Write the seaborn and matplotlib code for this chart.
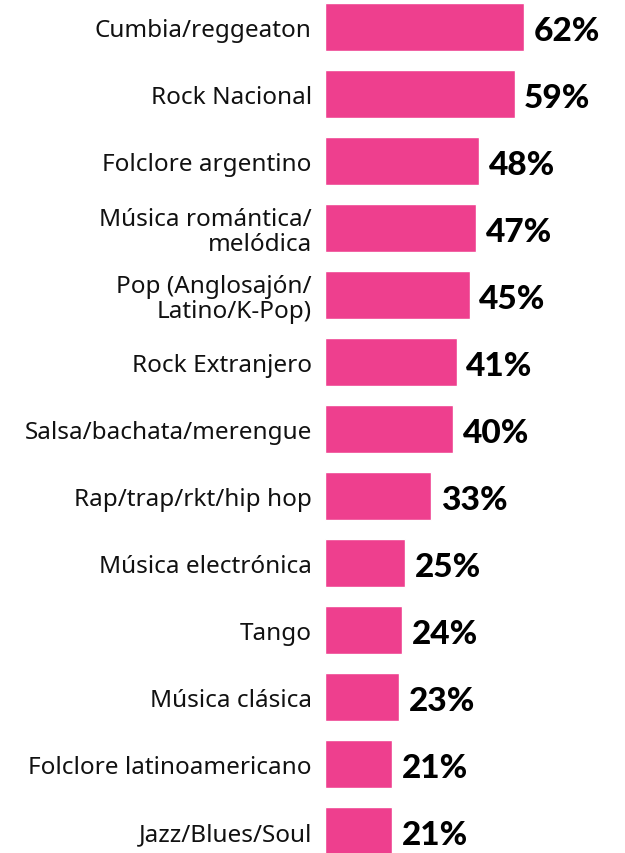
import matplotlib

matplotlib.use("Agg")
import matplotlib.pyplot as plt
import seaborn as sns
import pandas as pd

generos = [
    "Cumbia/reggeaton",
    "Rock Nacional",
    "Folclore argentino",
    "Música romántica/\nmelódica",
    "Pop (Anglosajón/\nLatino/K-Pop)",
    "Rock Extranjero",
    "Salsa/bachata/merengue",
    "Rap/trap/rkt/hip hop",
    "Música electrónica",
    "Tango",
    "Música clásica",
    "Folclore latinoamericano",
    "Jazz/Blues/Soul",
]
porcentajes = [62, 59, 48, 47, 45, 41, 40, 33, 25, 24, 23, 21, 21]

ROSA = "#EE3F8E"

df = pd.DataFrame({"genero": generos, "pct": porcentajes})

sns.set_style("white")
plt.rcParams["font.family"] = ["Noto Sans", "DejaVu Sans"]

fig = plt.figure(figsize=(6.25, 8.54), dpi=100)
ax = fig.add_axes([0.52, 0.0, 0.48, 1.0])

sns.barplot(data=df, x="pct", y="genero", color=ROSA, saturation=1,
            width=0.72, ax=ax)

ax.set_xlim(0, 93.4)
ax.set_ylim(12.328, -0.418)
ax.set_xlabel("")
ax.set_ylabel("")
ax.set_xticks([])
ax.tick_params(axis="y", length=0, pad=9.5)
for lbl in ax.get_yticklabels():
    lbl.set_fontsize(17.5)
    lbl.set_color("#111111")
    lbl.set_linespacing(1.05)
    lbl.set_multialignment("right")
sns.despine(ax=ax, left=True, bottom=True)

valores = ax.bar_label(ax.containers[0], labels=[f"{v}%" for v in porcentajes],
                       padding=8, fontsize=24, color="black")
for t in valores:
    t.set_fontfamily(["Lato", "DejaVu Sans"])
    t.set_fontweight("black")
    t.xyann = (7, -2.5)

fig.savefig("out.png", dpi=100)
